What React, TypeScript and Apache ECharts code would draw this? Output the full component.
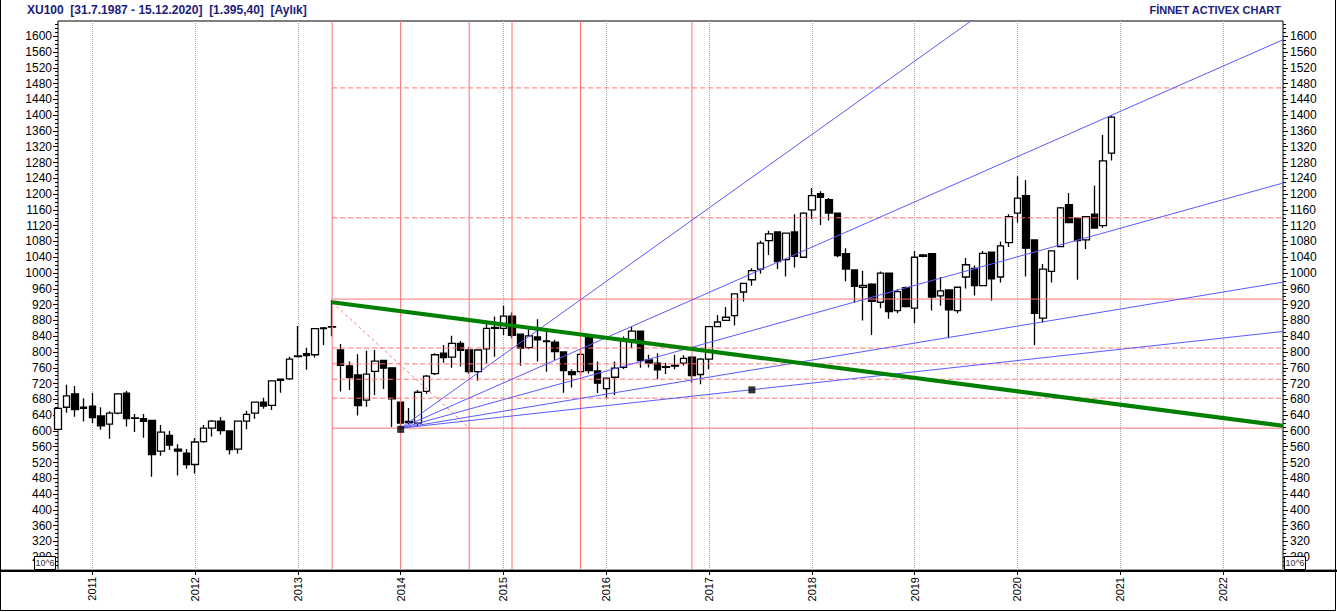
import React, { useEffect, useRef } from "react";
import * as echarts from "echarts";

// Monthly categories: Sep 2010 .. Aug 2022
const categories: string[] = [];
for (let i = 0; i < 144; i++) {
  const m = 8 + i;
  const y = 2010 + Math.floor(m / 12);
  const mm = (m % 12) + 1;
  categories.push(`${y}-${String(mm).padStart(2, "0")}`);
}

const opens = [
  604, 660, 694, 660, 663, 638, 617, 645, 696, 633, 631, 627, 549, 589, 554, 544,
  515, 573, 607, 625, 600, 554, 625, 645, 673, 665, 731, 732, 790, 796, 793, 859,
  863, 805, 765, 742, 678, 751, 779, 760, 673, 621, 620, 700, 745, 797, 787, 822,
  805, 750, 808, 860, 860, 891, 845, 811, 838, 828, 825, 800, 750, 750, 839, 752,
  707, 736, 761, 831, 853, 780, 772, 763, 764, 772, 787, 743, 782, 864, 880, 892,
  952, 983, 1010, 1082, 1104, 1034, 1104, 1040, 1160, 1201, 1186, 1152, 1049, 1008, 964, 972,
  926, 1000, 905, 963, 911, 1046, 1049, 942, 957, 905, 990, 1012, 968, 1053, 990, 1077,
  1152, 1196, 1084, 886, 1004, 1067, 1173, 1139, 1084, 1149, 1120, 1304,
];
const closes = [
  657, 689, 654, 657, 634, 613, 645, 694, 631, 632, 624, 540, 597, 564, 549, 515,
  572, 607, 625, 601, 553, 625, 642, 673, 663, 727, 728, 782, 788, 791, 859, 861,
  864, 766, 735, 664, 744, 777, 759, 681, 620, 624, 698, 739, 793, 786, 822, 804,
  750, 805, 860, 862, 891, 842, 810, 841, 831, 826, 801, 753, 743, 794, 753, 721,
  734, 759, 833, 853, 778, 772, 755, 761, 766, 784, 740, 782, 864, 876, 888, 947,
  974, 1006, 1076, 1099, 1029, 1101, 1042, 1152, 1196, 1192, 1152, 1044, 1010, 966, 969, 928,
  1000, 902, 953, 915, 1040, 1042, 939, 955, 907, 964, 1021, 968, 1050, 985, 1069, 1143,
  1190, 1063, 898, 1010, 1056, 1165, 1128, 1082, 1143, 1114, 1284, 1395,
];
const lows = [
  603, 646, 636, 624, 620, 603, 580, 642, 611, 597, 583, 484, 537, 552, 487, 504,
  492, 570, 586, 591, 540, 543, 604, 631, 656, 653, 697, 729, 786, 755, 786, 818,
  840, 700, 704, 639, 661, 691, 706, 610, 604, 617, 611, 694, 742, 773, 760, 763,
  745, 727, 772, 788, 843, 835, 765, 807, 776, 750, 780, 697, 710, 740, 745, 696,
  683, 691, 757, 810, 760, 761, 731, 744, 756, 765, 722, 718, 756, 864, 879, 867,
  928, 968, 998, 1046, 1010, 991, 1014, 1040, 1137, 1122, 1133, 1040, 979, 925, 880, 843,
  911, 884, 898, 913, 873, 1040, 905, 917, 835, 898, 961, 943, 968, 930, 976, 1066,
  1128, 991, 818, 875, 976, 1067, 1128, 983, 1061, 1114, 1115, 1285,
];
const highs = [
  660, 717, 714, 683, 697, 660, 650, 696, 701, 643, 643, 628, 615, 600, 566, 554,
  582, 615, 628, 635, 601, 626, 651, 674, 684, 728, 732, 788, 866, 811, 860, 863,
  932, 820, 776, 794, 803, 805, 780, 761, 674, 658, 704, 742, 797, 818, 841, 828,
  812, 806, 871, 890, 917, 900, 846, 864, 883, 856, 831, 801, 756, 805, 842, 776,
  735, 776, 839, 866, 854, 793, 797, 773, 793, 792, 790, 785, 866, 894, 914, 948,
  975, 1012, 1082, 1107, 1105, 1102, 1149, 1154, 1215, 1207, 1190, 1153, 1063, 1009, 1006, 974,
  1004, 1001, 959, 966, 1056, 1048, 1050, 990, 958, 965, 1038, 1019, 1056, 1054, 1080, 1149,
  1245, 1236, 1085, 1023, 1058, 1167, 1203, 1142, 1144, 1221, 1350, 1399,
];

// Drawings (category index, value)
const fibLevels = [607, 683, 731, 770, 810, 934, 1140, 1469];
const fibSolid = [true, false, false, false, false, true, false, false];
const fibStartIdx = 32;
const timeZoneIdx = [32, 40, 48, 53, 61, 74];
const fanOrigin = [40, 607];
const fanEndIdx = 143;
const fanEnds = [2203, 1591, 1228, 977, 852];
const greenLine = [
  [32, 926],
  [143, 613],
];
const dashedDiag = [
  [32, 926],
  [48, 607],
];
const markers = [
  [40, 604],
  [81, 704],
];

const yMin = 247.7;
const yMax = 1638.5;
const majorTicks: number[] = [];
for (let v = 280; v <= 1600; v += 40) majorTicks.push(v);
const minorTicks: number[] = [];
for (let v = 250; v <= 1630; v += 10) if (v % 40 !== 0) minorTicks.push(v);

const FONT = '"Liberation Sans", Arial, sans-serif';
const RED = "#ff7272";
const BLUE = "#5a5aff";

const isJan = (i: number) => !!categories[i] && categories[i].endsWith("-01");

export default function App() {
  const ref = useRef<HTMLDivElement>(null);
  useEffect(() => {
    document.body.style.margin = "0";
    if (!ref.current) return;
    const chart = echarts.init(ref.current, undefined, { renderer: "svg" });

    const series: any[] = [];
    series.push({
      type: "candlestick",
      data: opens.map((o, i) => [o, closes[i], lows[i], highs[i]]),
      barWidth: 7,
      itemStyle: {
        color: "#ffffff",
        color0: "#000000",
        borderColor: "#000000",
        borderColor0: "#000000",
        borderWidth: 1.3,
      },
      z: 2,
      silent: true,
    });
    const lineBase = {
      type: "line",
      symbol: "none",
      silent: true,
      clip: true,
      z: 3,
    };
    timeZoneIdx.forEach((ix) => {
      series.push({
        ...lineBase,
        data: [
          [ix, yMin],
          [ix, yMax],
        ],
        lineStyle: { color: RED, width: 1 },
      });
    });
    fibLevels.forEach((lv, k) => {
      series.push({
        ...lineBase,
        data: [
          [fibStartIdx, lv],
          [fanEndIdx, lv],
        ],
        lineStyle: { color: RED, width: 1, type: fibSolid[k] ? "solid" : [5, 3] },
      });
    });
    series.push({
      ...lineBase,
      data: dashedDiag,
      lineStyle: { color: RED, width: 1, type: [3, 3] },
    });
    fanEnds.forEach((ev) => {
      series.push({
        ...lineBase,
        data: [fanOrigin, [fanEndIdx, ev]],
        lineStyle: { color: BLUE, width: 1 },
      });
    });
    series.push({
      ...lineBase,
      data: greenLine,
      lineStyle: { color: "#008000", width: 4 },
      z: 4,
    });
    series.push({
      type: "scatter",
      data: markers,
      symbol: "rect",
      symbolSize: 7,
      itemStyle: { color: "#000" },
      silent: true,
      z: 5,
    });

    const yCommon = {
      type: "value",
      min: yMin,
      max: yMax,
      splitLine: { show: false },
      axisLine: { show: false },
    };
    const plain = (v: number) => String(Math.round(v));

    chart.setOption({
      animation: false,
      backgroundColor: "#ffffff",
      textStyle: { fontFamily: FONT },
      grid: {
        left: 58,
        right: 54,
        top: 21,
        bottom: 42,
        show: true,
        borderColor: "#000",
        borderWidth: 1,
        backgroundColor: "transparent",
      },
      xAxis: {
        type: "category",
        data: categories,
        boundaryGap: false,
        axisLine: { show: true, lineStyle: { color: "#000", width: 2 } },
        axisTick: {
          show: true,
          interval: (i: number) => isJan(i),
          length: 5,
          lineStyle: { color: "#000" },
        },
        axisLabel: {
          interval: (i: number) => isJan(i),
          rotate: 90,
          formatter: (v: string) => v.slice(0, 4),
          fontSize: 11,
          color: "#000",
          margin: 7,
          fontFamily: FONT,
        },
        splitLine: {
          show: true,
          interval: (i: number) => isJan(i),
          lineStyle: { type: "dotted", color: "#a8a8a8", width: 1 },
        },
      },
      yAxis: [
        {
          ...yCommon,
          position: "left",
          axisTick: {
            show: true,
            customValues: majorTicks,
            length: 5,
            lineStyle: { color: "#000" },
          },
          axisLabel: {
            customValues: majorTicks,
            formatter: plain,
            fontSize: 12,
            color: "#000",
            margin: 6,
            fontFamily: FONT,
          },
        },
        {
          ...yCommon,
          position: "right",
          axisTick: {
            show: true,
            customValues: majorTicks,
            length: 5,
            lineStyle: { color: "#000" },
          },
          axisLabel: {
            customValues: majorTicks,
            formatter: plain,
            fontSize: 12,
            color: "#000",
            margin: 7,
            fontFamily: FONT,
          },
        },
        {
          ...yCommon,
          position: "left",
          axisTick: {
            show: true,
            customValues: minorTicks,
            length: 3,
            lineStyle: { color: "#000" },
          },
          axisLabel: { show: false },
        },
        {
          ...yCommon,
          position: "right",
          axisTick: {
            show: true,
            customValues: minorTicks,
            length: 3,
            lineStyle: { color: "#000" },
          },
          axisLabel: { show: false },
        },
      ],
      series,
      graphic: [
        {
          type: "line",
          z: 100,
          shape: { x1: 0, y1: 569.5, x2: 1337, y2: 569.5 },
          style: { stroke: "#a0a0a0", lineWidth: 1 },
        },
        {
          type: "rect",
          z: 100,
          shape: { x: 0, y: 570, width: 1337, height: 2 },
          style: { fill: "#000" },
        },
        {
          type: "line",
          z: 100,
          shape: { x1: 0.5, y1: 0, x2: 0.5, y2: 611 },
          style: { stroke: "#000", lineWidth: 1 },
        },
        {
          type: "line",
          z: 100,
          shape: { x1: 1335.5, y1: 0, x2: 1335.5, y2: 611 },
          style: { stroke: "#000", lineWidth: 1 },
        },
        {
          type: "line",
          z: 100,
          shape: { x1: 0, y1: 610.5, x2: 1336, y2: 610.5 },
          style: { stroke: "#000", lineWidth: 1 },
        },
        {
          type: "text",
          z: 100,
          x: 27,
          y: 10,
          style: {
            text: "XU100  [31.7.1987 - 15.12.2020]  [1.395,40]  [Aylık]",
            fill: "#1c1c7a",
            font: `bold 12px ${FONT}`,
            textAlign: "left",
            textVerticalAlign: "middle",
          },
        },
        {
          type: "text",
          z: 100,
          x: 1281,
          y: 10,
          style: {
            text: "FİNNET ACTIVEX CHART",
            fill: "#1c1c7a",
            font: `bold 11px ${FONT}`,
            textAlign: "right",
            textVerticalAlign: "middle",
          },
        },
        {
          type: "rect",
          z: 100,
          shape: { x: 34.5, y: 556.5, width: 21, height: 13 },
          style: { fill: "#fff", stroke: "#000", lineWidth: 1 },
        },
        {
          type: "text",
          z: 101,
          x: 45,
          y: 563,
          style: {
            text: "10^6",
            fill: "#333",
            font: `9px ${FONT}`,
            textAlign: "center",
            textVerticalAlign: "middle",
          },
        },
        {
          type: "rect",
          z: 100,
          shape: { x: 1284.5, y: 556.5, width: 21, height: 13 },
          style: { fill: "#fff", stroke: "#000", lineWidth: 1 },
        },
        {
          type: "text",
          z: 101,
          x: 1295,
          y: 563,
          style: {
            text: "10^6",
            fill: "#333",
            font: `9px ${FONT}`,
            textAlign: "center",
            textVerticalAlign: "middle",
          },
        },
      ],
    });
    return () => chart.dispose();
  }, []);
  return (
    <div
      ref={ref}
      style={{ position: "absolute", left: 0, top: 0, width: 1337, height: 612 }}
    />
  );
}
